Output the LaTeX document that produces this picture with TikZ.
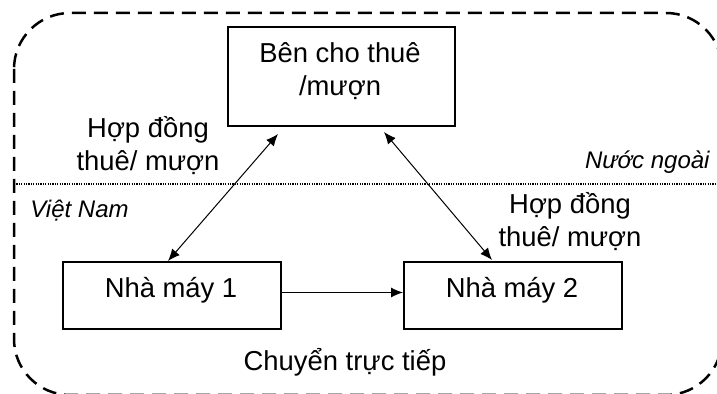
\documentclass[tikz,border=0pt]{standalone}
\usepackage{fontspec}
\setmainfont{Liberation Sans}
\usetikzlibrary{arrows.meta,calc}
\begin{document}
\begin{tikzpicture}[x=0.5pt,y=-0.5pt,
  box/.style={draw,line width=1pt,inner sep=0pt,anchor=north west},
  lbl/.style={font=\fontsize{13.7}{16.5}\selectfont,align=center,inner sep=0pt},
  ital/.style={font=\fontsize{12}{14}\selectfont\itshape,inner sep=0pt},
  conn/.style={line width=0.5pt,{Latex[length=6pt,width=5pt]}-{Latex[length=6pt,width=5pt]}},
  oneway/.style={line width=0.5pt,-{Latex[length=6pt,width=5pt]}}]
\useasboundingbox (0,0) rectangle (717,394);
\clip (0,0) rectangle (717,394);
% boundary
\draw[line width=1.25pt,dash pattern=on 7pt off 4pt,rounded corners=28pt] (14,13) rectangle (722,395);
\draw[line width=0.6pt,dash pattern=on 0.6pt off 0.6pt] (14,184) -- (717,184);
% boxes
\node[box,minimum width=227pt*0.5,minimum height=99pt*0.5] (top) at (227,26) {};
\node[box,minimum width=218pt*0.5,minimum height=67pt*0.5] (n1) at (62,261) {};
\node[box,minimum width=218pt*0.5,minimum height=67pt*0.5] (n2) at (403,261) {};
% box texts
\node[lbl] (toptxt) at (340,71) {Bên cho thuê\\/mượn};
\node[lbl] (n1txt) at (171,290) {Nhà máy 1};
\node[lbl] (n2txt) at (512,290) {Nhà máy 2};
% connectors
\coordinate (a1) at ([shift={(51,7)}]top.south west);
\coordinate (b1) at ([shift={(106,0)}]n1.north west);
\coordinate (a2) at ([shift={(-72,5)}]top.south east);
\coordinate (b2) at ([shift={(89,-1)}]n2.north west);
\draw[conn] (a1) -- (b1);
\draw[conn] (a2) -- (b2);
\draw[oneway] ([yshift=1.5]n1.east) -- ([yshift=1.5]n2.west);
% labels
\node[lbl] (l1) at (148,146) {Hợp đồng\\thuê/ mượn};
\node[lbl] (l2) at (570,222) {Hợp đồng\\thuê/ mượn};
\node[ital,anchor=east] (nn) at (710,162) {Nước ngoài};
\node[ital,anchor=west] (vn) at (30,211) {Việt Nam};
\node[lbl] (ct) at (345,362) {Chuyển trực tiếp};
\end{tikzpicture}
\end{document}
